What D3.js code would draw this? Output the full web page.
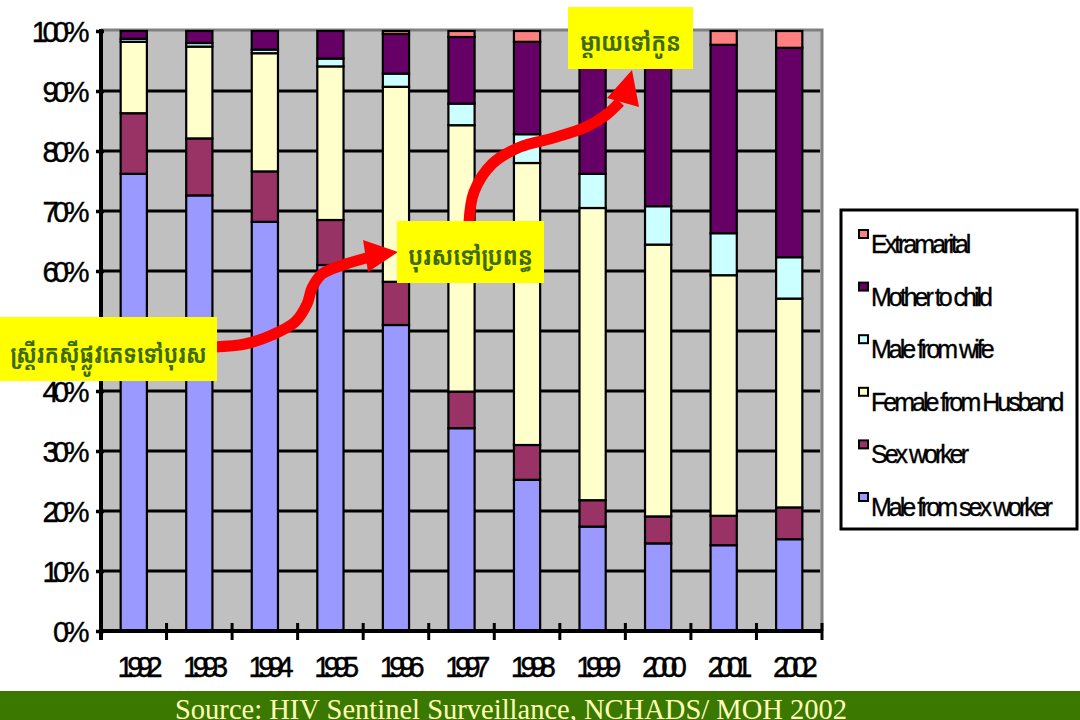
<!DOCTYPE html>
<html>
<head>
<meta charset="utf-8">
<script src="https://cdn.jsdelivr.net/npm/d3@7"></script>
<style>
  html, body { margin: 0; padding: 0; background: #ffffff; }
  svg { display: block; }
</style>
</head>
<body>
<svg id="chart" width="1080" height="720"></svg>
<script>
// HIV transmission routes by year, share of new infections (%)
const years = ["1992", "1993", "1994", "1995", "1996", "1997", "1998", "1999", "2000", "2001", "2002"];
const maleFromSexWorker = [76.2, 72.6, 68.2, 61.0, 51.0, 33.8, 25.2, 17.4, 14.6, 14.3, 15.3];
const sexWorker         = [10.1,  9.5,  8.4,  7.5,  7.2,  6.1,  5.8,  4.4,  4.5,  4.9,  5.3];
const femaleFromHusband = [11.9, 15.3, 19.7, 25.6, 32.5, 44.4, 47.0, 48.7, 45.3, 40.1, 34.8];
const maleFromWife      = [ 0.5,  0.6,  0.6,  1.3,  2.2,  3.6,  4.8,  5.7,  6.4,  7.0,  6.9];
const motherToChild     = [ 1.3,  2.0,  3.1,  4.6,  6.6, 11.1, 15.4, 22.3, 27.7, 31.4, 34.9];
const extramarital      = [ 0.0,  0.0,  0.0,  0.0,  0.5,  1.0,  1.8,  1.5,  1.5,  2.3,  2.8];

// series, bottom of the stack first
const seriesNames  = ["Male from sex worker", "Sex worker", "Female from Husband", "Male from wife", "Mother to child", "Extramarital"];
const seriesValues = [maleFromSexWorker, sexWorker, femaleFromHusband, maleFromWife, motherToChild, extramarital];
const seriesColors = ["#9999ff", "#993366", "#ffffcc", "#ccffff", "#660066", "#ff8080"];

const yTicks = [0, 0.1, 0.2, 0.3, 0.4, 0.5, 0.6, 0.7, 0.8, 0.9, 1.0];

const sourceText = "Source: HIV Sentinel Surveillance, NCHADS/ MOH 2002";

// callouts (Khmer)
const calloutSexWork = "ស្ត្រីរកស៊ីផ្លូវភេទទៅបុរស";
const calloutHusband = "បុរសទៅប្រពន្ធ";
const calloutMother  = "ម្តាយទៅកូន";

// ---- layout ----
const plot = { left: 101, right: 822, top: 31, bottom: 631 };

const svg = d3.select("#chart");

const rows = years.map((yr, i) => {
  const r = { year: yr };
  seriesNames.forEach((n, k) => { r[n] = seriesValues[k][i]; });
  return r;
});

const stack = d3.stack().keys(seriesNames).offset(d3.stackOffsetExpand);
const layers = stack(rows);

const x = d3.scaleBand().domain(years).range([plot.left, plot.right])
  .paddingInner(0.6).paddingOuter(0.3);
const y = d3.scaleLinear().domain([0, 1]).range([plot.bottom, plot.top]);

// plot background
svg.append("rect")
  .attr("x", plot.left).attr("y", plot.top)
  .attr("width", plot.right - plot.left).attr("height", plot.bottom - plot.top)
  .attr("fill", "#c0c0c0");
svg.append("path")
  .attr("d", `M${plot.left},${plot.top - 1}H${plot.right}V${plot.bottom}`)
  .attr("fill", "none").attr("stroke", "#808080").attr("stroke-width", 3);

// horizontal gridlines
svg.append("g")
  .selectAll("line")
  .data(yTicks.filter(t => t > 0 && t < 1))
  .join("line")
  .attr("x1", plot.left).attr("x2", plot.right - 2)
  .attr("y1", d => y(d)).attr("y2", d => y(d))
  .attr("stroke", "#000").attr("stroke-width", 3);

// stacked bars
svg.append("g")
  .selectAll("g")
  .data(layers)
  .join("g")
  .attr("fill", (d, i) => seriesColors[i])
  .selectAll("rect")
  .data(d => d)
  .join("rect")
  .attr("x", d => x(d.data.year))
  .attr("width", x.bandwidth())
  .attr("y", d => y(d[1]))
  .attr("height", d => Math.max(0, y(d[0]) - y(d[1])))
  .attr("stroke", "#000")
  .attr("stroke-width", 2.2);

const axisFont = "'Liberation Sans', Arial, sans-serif";

// y axis
const yAxis = d3.axisLeft(y).tickValues(yTicks).tickSize(8)
  .tickFormat(d3.format(".0%"));
const gy = svg.append("g").attr("transform", `translate(${plot.left + 3},0)`).call(yAxis);
gy.select(".domain").remove();
gy.selectAll(".tick line").attr("stroke", "#000").attr("stroke-width", 3.5).attr("x1", 0);
gy.selectAll(".tick text")
  .attr("x", -20)
  .attr("dy", "0.36em")
  .attr("font-family", axisFont)
  .attr("font-size", 29)
  .attr("letter-spacing", "-5.5px")
  .attr("fill", "#000")
  .attr("stroke", "#000").attr("stroke-width", 0.4);
svg.append("line")
  .attr("x1", plot.left).attr("x2", plot.left)
  .attr("y1", plot.top - 2).attr("y2", plot.bottom + 9)
  .attr("stroke", "#000").attr("stroke-width", 4);

// x axis
const xAxis = d3.axisBottom(x).tickSize(0);
const gx = svg.append("g").attr("transform", `translate(0,${plot.bottom})`).call(xAxis);
gx.select(".domain").remove();
gx.selectAll(".tick text")
  .attr("y", 46)
  .attr("dy", 0)
  .attr("dx", 3)
  .attr("font-family", axisFont)
  .attr("font-size", 29)
  .attr("letter-spacing", "-6.5px")
  .attr("fill", "#000")
  .attr("stroke", "#000").attr("stroke-width", 0.4);
svg.append("line")
  .attr("x1", plot.left).attr("x2", plot.right)
  .attr("y1", plot.bottom).attr("y2", plot.bottom)
  .attr("stroke", "#000").attr("stroke-width", 4);
// category separators crossing the axis
const step = x.step();
svg.append("g")
  .selectAll("line")
  .data(years.map((d, i) => i + 1))
  .join("line")
  .attr("x1", k => x(years[0]) - step * 0.3 + k * step)
  .attr("x2", k => x(years[0]) - step * 0.3 + k * step)
  .attr("y1", plot.bottom - 8).attr("y2", plot.bottom + 9)
  .attr("stroke", "#000").attr("stroke-width", 3);

// legend
const legend = svg.append("g");
legend.append("rect")
  .attr("x", 841).attr("y", 210).attr("width", 236).attr("height", 319)
  .attr("fill", "#fff").attr("stroke", "#000").attr("stroke-width", 3);
const legendOrder = d3.range(seriesNames.length).reverse();
const li = legend.selectAll("g.item")
  .data(legendOrder)
  .join("g")
  .attr("class", "item")
  .attr("transform", (d, i) => `translate(859,${230 + i * 52.6})`);
li.append("rect")
  .attr("width", 9).attr("height", 8)
  .attr("fill", d => seriesColors[d])
  .attr("stroke", "#000").attr("stroke-width", 2);
li.append("text")
  .attr("x", 12).attr("y", 23)
  .attr("font-family", axisFont)
  .attr("font-size", 25)
  .attr("letter-spacing", "-3px")
  .attr("fill", "#000")
  .attr("stroke", "#000").attr("stroke-width", 0.35)
  .text(d => seriesNames[d]);

// curved red arrows linking the callouts
const arrowLine = d3.line().curve(d3.curveCatmullRom.alpha(0.5));
const arrows = [
  {
    path: [[214, 347], [245, 344], [272, 335], [295, 322], [307, 304], [312, 288], [322, 274], [343, 265], [370, 257]],
    head: [[363, 240], [398, 252], [368, 272]]
  },
  {
    path: [[469, 222], [474, 192], [492, 164], [520, 147], [553, 138], [586, 127], [606, 115], [620, 102]],
    head: [[607, 98], [632, 70], [639, 107]]
  }
];
const ga = svg.append("g");
arrows.forEach(a => {
  ga.append("path").attr("d", arrowLine(a.path))
    .attr("fill", "none").attr("stroke", "#ff0000").attr("stroke-width", 11)
    .attr("stroke-linecap", "butt");
  ga.append("path").attr("d", "M" + a.head.join("L") + "Z").attr("fill", "#ff0000");
});

// callout boxes
const callouts = [
  { text: calloutSexWork, x: 0,   y: 317, w: 217, h: 64, tw: 196, base: 46 },
  { text: calloutHusband, x: 397, y: 221, w: 147, h: 62, tw: 125, base: 44 },
  { text: calloutMother,  x: 568, y: 7,   w: 125, h: 62, tw: 101, base: 44 }
];
const gc = svg.append("g");
callouts.forEach(c => {
  gc.append("rect").attr("x", c.x).attr("y", c.y).attr("width", c.w).attr("height", c.h)
    .attr("fill", "#ffff00");
  gc.append("text")
    .attr("x", c.x + c.w / 2).attr("y", c.y + c.base)
    .attr("text-anchor", "middle")
    .attr("font-family", "'Noto Sans Khmer', 'Noto Serif Khmer', 'Khmer OS', 'Khmer OS System', Hanuman, sans-serif")
    .attr("font-size", 25)
    .attr("font-weight", "bold")
    .attr("fill", "#3d6b00")
    .attr("textLength", c.tw)
    .attr("lengthAdjust", "spacingAndGlyphs")
    .text(c.text);
});

// source band
svg.append("rect").attr("x", 0).attr("y", 691).attr("width", 1080).attr("height", 29)
  .attr("fill", "#3a7800");
svg.append("text")
  .attr("x", 511).attr("y", 719)
  .attr("text-anchor", "middle")
  .attr("font-family", "'Liberation Serif', 'Times New Roman', serif")
  .attr("font-size", 28.5)
  .attr("textLength", 672)
  .attr("fill", "#ffffb8")
  .text(sourceText);
</script>
</body>
</html>
